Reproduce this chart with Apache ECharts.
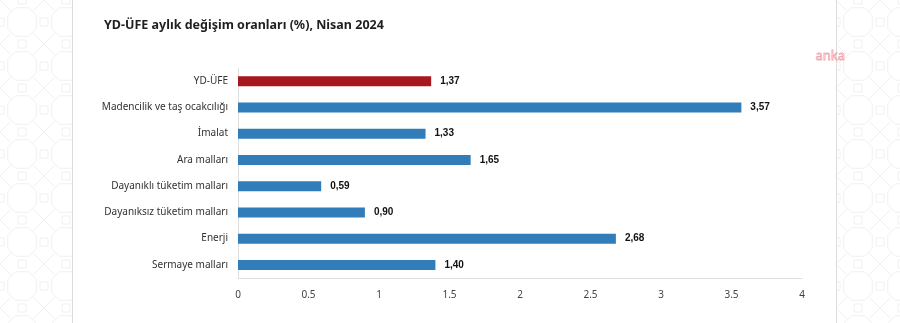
<!DOCTYPE html>
<html>
<head>
<meta charset="utf-8">
<script src="https://cdn.jsdelivr.net/npm/echarts@6/dist/echarts.min.js"></script>
<style>
  html, body { margin: 0; padding: 0; background: #fff; }
  #chart { width: 900px; height: 323px; }
</style>
</head>
<body>
<div id="chart"></div>
<script>
// Monthly change rates by sector, April 2024
const categories = [
  'YD-ÜFE',
  'Madencilik ve taş ocakcılığı',
  'İmalat',
  'Ara malları',
  'Dayanıklı tüketim malları',
  'Dayanıksız tüketim malları',
  'Enerji',
  'Sermaye malları'
];
const values = [1.37, 3.57, 1.33, 1.65, 0.59, 0.90, 2.68, 1.40];
const xTicks = [0, 0.5, 1, 1.5, 2, 2.5, 3, 3.5, 4];

const RED = '#a8171f';
const BLUE = '#317dba';

// Faint geometric tile used for the side margins
function makeTile() {
  const s = 44;
  const c = document.createElement('canvas');
  c.width = s; c.height = s;
  const g = c.getContext('2d');
  g.fillStyle = '#ffffff';
  g.fillRect(0, 0, s, s);
  g.strokeStyle = '#f0f0f0';
  g.lineWidth = 1;
  const h = s / 2, q = s / 4;
  // octagon around centre
  g.beginPath();
  g.moveTo(h - q * 0.6, h - q * 1.3);
  g.lineTo(h + q * 0.6, h - q * 1.3);
  g.lineTo(h + q * 1.3, h - q * 0.6);
  g.lineTo(h + q * 1.3, h + q * 0.6);
  g.lineTo(h + q * 0.6, h + q * 1.3);
  g.lineTo(h - q * 0.6, h + q * 1.3);
  g.lineTo(h - q * 1.3, h + q * 0.6);
  g.lineTo(h - q * 1.3, h - q * 0.6);
  g.closePath();
  g.stroke();
  // diagonals to corners
  g.beginPath();
  g.moveTo(0, 0); g.lineTo(h - q * 0.95, h - q * 0.95);
  g.moveTo(s, 0); g.lineTo(h + q * 0.95, h - q * 0.95);
  g.moveTo(0, s); g.lineTo(h - q * 0.95, h + q * 0.95);
  g.moveTo(s, s); g.lineTo(h + q * 0.95, h + q * 0.95);
  // small crosses at the edges
  g.moveTo(0, h - 4); g.lineTo(4, h - 4); g.lineTo(4, h + 4); g.lineTo(0, h + 4);
  g.moveTo(s, h - 4); g.lineTo(s - 4, h - 4); g.lineTo(s - 4, h + 4); g.lineTo(s, h + 4);
  g.moveTo(h - 4, 0); g.lineTo(h - 4, 4); g.lineTo(h + 4, 4); g.lineTo(h + 4, 0);
  g.moveTo(h - 4, s); g.lineTo(h - 4, s - 4); g.lineTo(h + 4, s - 4); g.lineTo(h + 4, s);
  g.stroke();
  return c;
}

const chart = echarts.init(document.getElementById('chart'), null, { renderer: 'canvas' });

const FONT = '"Noto Sans", "Open Sans", sans-serif';

chart.setOption({
  animation: false,
  backgroundColor: { image: makeTile(), repeat: 'repeat' },
  graphic: [
    {
      type: 'rect', z: -10, silent: true,
      shape: { x: 72, y: 0, width: 764, height: 323 },
      style: { fill: '#ffffff' }
    },
    {
      type: 'line', z: -9, silent: true,
      shape: { x1: 72.5, y1: 0, x2: 72.5, y2: 323 },
      style: { stroke: '#dcdcdc', lineWidth: 1 }
    },
    {
      type: 'line', z: -9, silent: true,
      shape: { x1: 836.5, y1: 0, x2: 836.5, y2: 323 },
      style: { stroke: '#dcdcdc', lineWidth: 1 }
    },
    {
      type: 'text', z: 10, silent: true,
      left: 815, top: 49,
      style: {
        text: 'anka', fontSize: 13, fontFamily: FONT,
        fill: 'rgba(255,255,255,0)', stroke: '#f2a6ae', lineWidth: 0.8
      }
    }
  ],
  title: {
    text: 'YD-ÜFE aylık değişim oranları (%), Nisan 2024',
    left: 99, top: 14,
    textStyle: { fontFamily: FONT, fontSize: 12.5, fontWeight: 'bold', color: '#1f1f1f' }
  },
  grid: { left: 238, right: 98, top: 68, bottom: 45, containLabel: false },
  xAxis: {
    type: 'value',
    min: 0, max: 4, interval: 0.5,
    axisLine: { show: true, lineStyle: { color: '#dedede' } },
    axisTick: { show: false },
    splitLine: { show: false },
    axisLabel: {
      margin: 12, color: '#444', fontSize: 10, fontFamily: FONT,
      formatter: v => (xTicks.includes(v) ? String(v) : '')
    }
  },
  yAxis: {
    type: 'category',
    data: categories,
    inverse: true,
    axisLine: { show: true, lineStyle: { color: '#dedede' } },
    axisTick: { show: false },
    axisLabel: { margin: 10, color: '#333', fontSize: 10, fontFamily: FONT }
  },
  series: [{
    type: 'bar',
    barWidth: 10,
    data: values.map((v, i) => ({ value: v, itemStyle: { color: i === 0 ? RED : BLUE } })),
    label: {
      show: true, position: 'right', distance: 9,
      color: '#111', fontSize: 10, fontWeight: 'bold', fontFamily: '"Liberation Sans", Arial, sans-serif',
      formatter: p => p.value.toFixed(2).replace('.', ',')
    }
  }]
});
</script>
</body>
</html>
